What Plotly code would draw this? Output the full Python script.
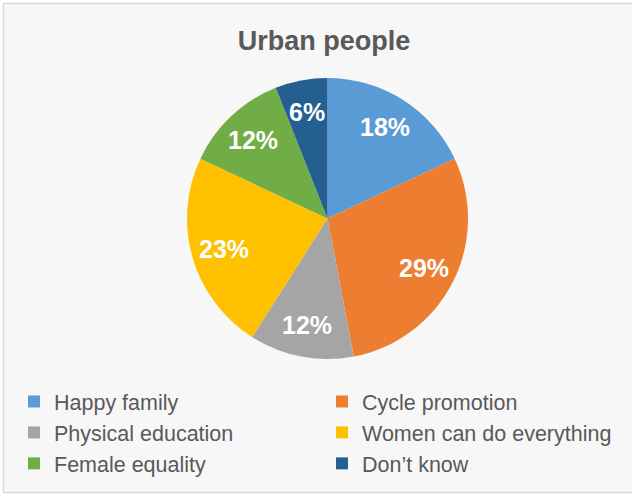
import math
import plotly.graph_objects as go

categories = ["Happy family", "Cycle promotion", "Physical education",
              "Women can do everything", "Female equality", "Don\u2019t know"]
values = [18, 29, 12, 23, 12, 6]
colors = ["#5B9BD5", "#ED7D31", "#A5A5A5", "#FFC000", "#70AD47", "#255E91"]

W, H = 632, 495
cx, cy, R = 327.5, 218.5, 140.5
label_r = 0.77

dom_x = [(cx - R) / W, (cx + R) / W]
dom_y = [1 - (cy + R) / H, 1 - (cy - R) / H]

fig = go.Figure(go.Pie(
    labels=categories,
    values=values,
    sort=False,
    direction="clockwise",
    rotation=0,
    marker=dict(colors=colors, line=dict(width=0)),
    textinfo="none",
    domain=dict(x=dom_x, y=dom_y),
    hoverinfo="label+percent",
))

# percentage labels placed at the slice mid-angle (Excel-style)
total = sum(values)
annotations = []
cum = 0
for v in values:
    mid = (cum + v / 2) / total * 2 * math.pi
    cum += v
    px = cx + label_r * R * math.sin(mid)
    py = cy - label_r * R * math.cos(mid)
    annotations.append(dict(
        x=px / W, y=1 - py / H, xref="paper", yref="paper",
        text="<b>%d%%</b>" % round(v / total * 100), showarrow=False,
        xanchor="center", yanchor="middle",
        font=dict(family="Liberation Sans, Arial", size=25, color="white"),
    ))

fig.update_layout(
    width=W, height=H,
    margin=dict(l=0, r=0, t=0, b=0),
    paper_bgcolor="white",
    plot_bgcolor="white",
    title=dict(text="<b>Urban people</b>", x=324 / W, xanchor="center", y=1 - 41 / H, yanchor="middle",
               font=dict(family="Liberation Sans, Arial", size=27, color="#595959")),
    showlegend=True,
    legend=dict(
        orientation="h",
        x=14 / W, xanchor="left",
        y=1 - 381 / H, yanchor="top",
        entrywidth=263,
        font=dict(family="Liberation Sans, Arial", size=21.5, color="#595959"),
        bgcolor="rgba(0,0,0,0)",
        traceorder="normal",
    ),
    annotations=annotations,
    shapes=[dict(type="rect", xref="paper", yref="paper",
                 x0=3.5 / W, x1=1.1, y0=1 - 492.5 / H, y1=1 - 3.5 / H,
                 fillcolor="#f7f7f7", line=dict(color="#d9d9d9", width=1.5), layer="below")],
)

fig.write_html("out.html", config={"displayModeBar": False},
               post_script="document.body.style.margin='0';")
